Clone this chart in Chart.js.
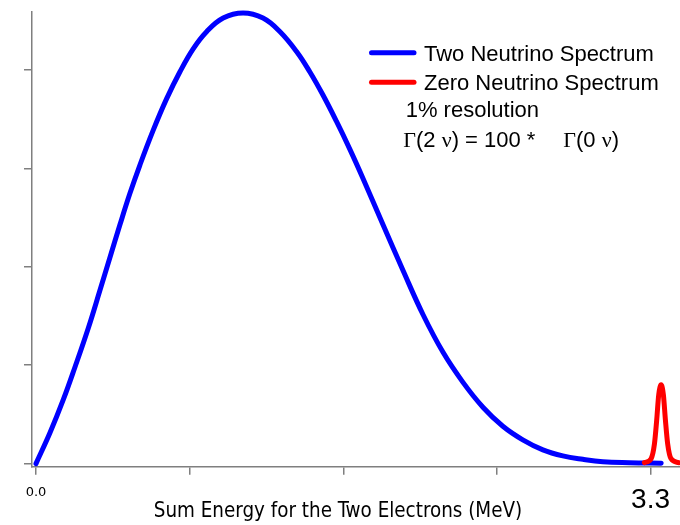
<!DOCTYPE html>
<html>
<head>
<meta charset="utf-8">
<title>Double beta decay sum-energy spectrum</title>
<script src="https://cdn.jsdelivr.net/npm/chart.js@4/dist/chart.umd.min.js"></script>
<style>
  html, body { margin: 0; padding: 0; background: #ffffff; }
  canvas { display: block; }
</style>
</head>
<body>
<canvas id="spectrum" width="680" height="525"></canvas>
<script>
// Two-neutrino spectrum: summed electron energy (MeV) and relative rate
const energyTwoNu = [0, 0.075, 0.147, 0.209, 0.281, 0.343, 0.397, 0.451, 0.504, 0.558,
  0.629, 0.701, 0.773, 0.844, 0.916, 1.005, 1.112, 1.219, 1.309, 1.399,
  1.470, 1.541, 1.613, 1.685, 1.756, 1.863, 1.971, 2.078, 2.185, 2.292,
  2.400, 2.507, 2.614, 2.722, 2.829, 2.936, 3.044, 3.187, 3.357];
const rateTwoNu = [0, 0.313, 0.652, 0.979, 1.378, 1.758, 2.094, 2.429, 2.744, 3.034,
  3.386, 3.706, 3.982, 4.215, 4.389, 4.528, 4.579, 4.528, 4.391, 4.188,
  3.982, 3.745, 3.479, 3.196, 2.898, 2.430, 1.962, 1.515, 1.133, 0.828,
  0.573, 0.380, 0.242, 0.140, 0.079, 0.044, 0.019, 0.009, 0.003];

// Zero-neutrino line at the endpoint, smeared by the detector resolution
const energyZeroNu = [3.267, 3.303, 3.321, 3.333, 3.344, 3.357, 3.369, 3.380, 3.392, 3.410, 3.451];
const rateZeroNu   = [0.01, 0.05, 0.20, 0.44, 0.70, 0.80, 0.70, 0.44, 0.20, 0.05, 0.01];

const seriesNames = ['Two Neutrino Spectrum', 'Zero Neutrino Spectrum'];
const seriesColors = ['#0000ff', '#ff0000'];

// Axis ticks
const energyTicks = [0, 0.825, 1.65, 2.475, 3.3];
const energyTickLabels = ['0.0', '', '', '', '3.3'];
const rateTicks = [0, 1, 2, 3, 4];

const axisTitle = 'Sum Energy for the Two Electrons (MeV)';
const resolutionNote = '1% resolution';

const SANS = "'Liberation Sans', Arial, Helvetica, sans-serif";
const SERIF = "'Liberation Serif', 'Times New Roman', serif";
const TITLE_FONT = "'DejaVu Sans Condensed', 'DejaVu Sans', sans-serif";
const AXIS_GREY = '#7f7f7f';

// Rate ratio line, mixing a serif face for the Greek letters
const ratioRunsLeft = [
  ['\u0393', SERIF], ['(2 ', SANS], ['\u03BD', SERIF], [') = 100 *', SANS]
];
const ratioRunsRight = [
  ['\u0393', SERIF], ['(0 ', SANS], ['\u03BD', SERIF], [')', SANS]
];

function drawRuns(ctx, runs, x, y, size) {
  let cx = x;
  for (const [text, family] of runs) {
    ctx.font = size + 'px ' + family;
    ctx.fillText(text, cx, y);
    cx += ctx.measureText(text).width;
  }
}

// Legend entries, notes and the energy-axis caption
const legendNotes = {
  id: 'legendNotes',
  afterDraw(chart) {
    const ctx = chart.ctx;
    ctx.save();
    ctx.textAlign = 'left';
    ctx.textBaseline = 'alphabetic';
    chart.data.datasets.forEach((ds, i) => {
      const ly = 52.7 + i * 29.5;
      ctx.strokeStyle = ds.borderColor;
      ctx.lineWidth = 5;
      ctx.lineCap = 'round';
      ctx.beginPath();
      ctx.moveTo(371.5, ly);
      ctx.lineTo(414, ly);
      ctx.stroke();
      ctx.fillStyle = '#000000';
      ctx.font = '22px ' + SANS;
      ctx.fillText(ds.label, 424, 61 + i * 29);
    });
    ctx.fillStyle = '#000000';
    ctx.font = '22px ' + SANS;
    ctx.fillText(resolutionNote, 405.7, 117.3);
    drawRuns(ctx, ratioRunsLeft, 403.3, 146.7, 22);
    drawRuns(ctx, ratioRunsRight, 563.3, 146.7, 22);

    ctx.textAlign = 'center';
    ctx.font = '20.4px ' + TITLE_FONT;
    ctx.fillText(axisTitle, 338, 516.7);
    ctx.restore();
  }
};

const lineStyle = {
  borderWidth: 5,
  pointRadius: 0,
  fill: false,
  borderCapStyle: 'round',
  borderJoinStyle: 'round',
  clip: false
};

new Chart(document.getElementById('spectrum'), {
  type: 'line',
  data: {
    datasets: [
      Object.assign({
        label: seriesNames[0],
        data: energyTwoNu.map((x, i) => ({ x: x, y: rateTwoNu[i] })),
        borderColor: seriesColors[0],
        tension: 0.4,
        order: 1
      }, lineStyle),
      Object.assign({
        label: seriesNames[1],
        data: energyZeroNu.map((x, i) => ({ x: x, y: rateZeroNu[i] })),
        borderColor: seriesColors[1],
        cubicInterpolationMode: 'monotone',
        order: 0
      }, lineStyle)
    ]
  },
  options: {
    responsive: false,
    animation: false,
    devicePixelRatio: 1,
    events: [],
    layout: { padding: { top: 12, left: 0, right: 0, bottom: 0 } },
    plugins: {
      legend: { display: false },
      tooltip: { enabled: false },
      title: { display: false }
    },
    scales: {
      x: {
        type: 'linear',
        min: -0.0215,
        max: 3.456,
        afterBuildTicks: (s) => { s.ticks = energyTicks.map(v => ({ value: v })); },
        afterFit: (s) => { s.height = 58.3; },
        grid: { drawOnChartArea: false, drawTicks: true, tickLength: 8, color: AXIS_GREY, lineWidth: 1.5 },
        border: { display: true, color: AXIS_GREY, width: 1.5 },
        ticks: {
          autoSkip: false,
          maxRotation: 0,
          padding: 10,
          color: '#000000',
          callback: (value, index) => energyTickLabels[index],
          font: (c) => (c.index === energyTicks.length - 1)
            ? { family: SANS, size: 28, lineHeight: 1.1 }
            : { family: "'DejaVu Sans', sans-serif", size: 13, lineHeight: 1.2 }
        }
      },
      y: {
        type: 'linear',
        min: -0.0315,
        max: 4.589,
        afterBuildTicks: (s) => { s.ticks = rateTicks.map(v => ({ value: v })); },
        afterFit: (s) => { s.width = 32; },
        grid: { drawOnChartArea: false, drawTicks: true, tickLength: 8, color: AXIS_GREY, lineWidth: 1.5 },
        border: { display: true, color: AXIS_GREY, width: 1.5 },
        ticks: { display: false }
      }
    }
  },
  plugins: [legendNotes]
});
</script>
</body>
</html>
